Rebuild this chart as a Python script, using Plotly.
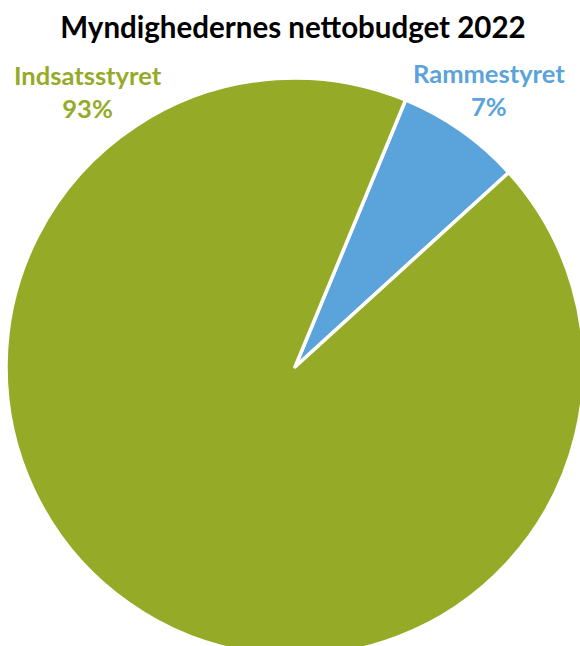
import plotly.graph_objects as go

# Data
categories = ["Rammestyret", "Indsatsstyret"]
values = [7, 93]
pct_labels = ["7%", "93%"]

colors = ["#5BA3DB", "#95AB28"]

W, H = 590, 662

fig = go.Figure(
    go.Pie(
        labels=categories,
        values=values,
        sort=False,
        direction="clockwise",
        rotation=22.5,
        textinfo="none",
        hoverinfo="label+percent",
        marker=dict(colors=colors, line=dict(color="white", width=3.5)),
        domain=dict(x=[0, 1], y=[(H - 656) / H, (H - 78) / H]),
        showlegend=False,
    )
)

font_family = "Lato, 'Open Sans', sans-serif"

annotations = [
    dict(text="<b>%s</b><br><b>%s</b>" % (categories[1], pct_labels[1]),
         x=87.5 / W, y=1 - 92 / H, font=dict(color=colors[1], size=25.5, family=font_family)),
    dict(text="<b>%s</b><br><b>%s</b>" % (categories[0], pct_labels[0]),
         x=488.5 / W, y=1 - 89 / H, font=dict(color=colors[0], size=25.5, family=font_family)),
]
for a in annotations:
    a.update(xref="paper", yref="paper", showarrow=False, xanchor="center", yanchor="middle", align="center")

fig.update_layout(
    width=W,
    height=H,
    margin=dict(l=0, r=0, t=0, b=0),
    paper_bgcolor="white",
    plot_bgcolor="white",
    title=dict(text="<b>Myndighedernes nettobudget 2022</b>", x=293 / W, xanchor="center",
               y=1 - 28 / H, yanchor="middle",
               font=dict(size=29.5, color="black", family=font_family)),
    annotations=annotations,
)

fig.write_html("out.html", config={"displayModeBar": False},
               post_script="document.body.style.margin='0';document.body.style.overflow='hidden';")
